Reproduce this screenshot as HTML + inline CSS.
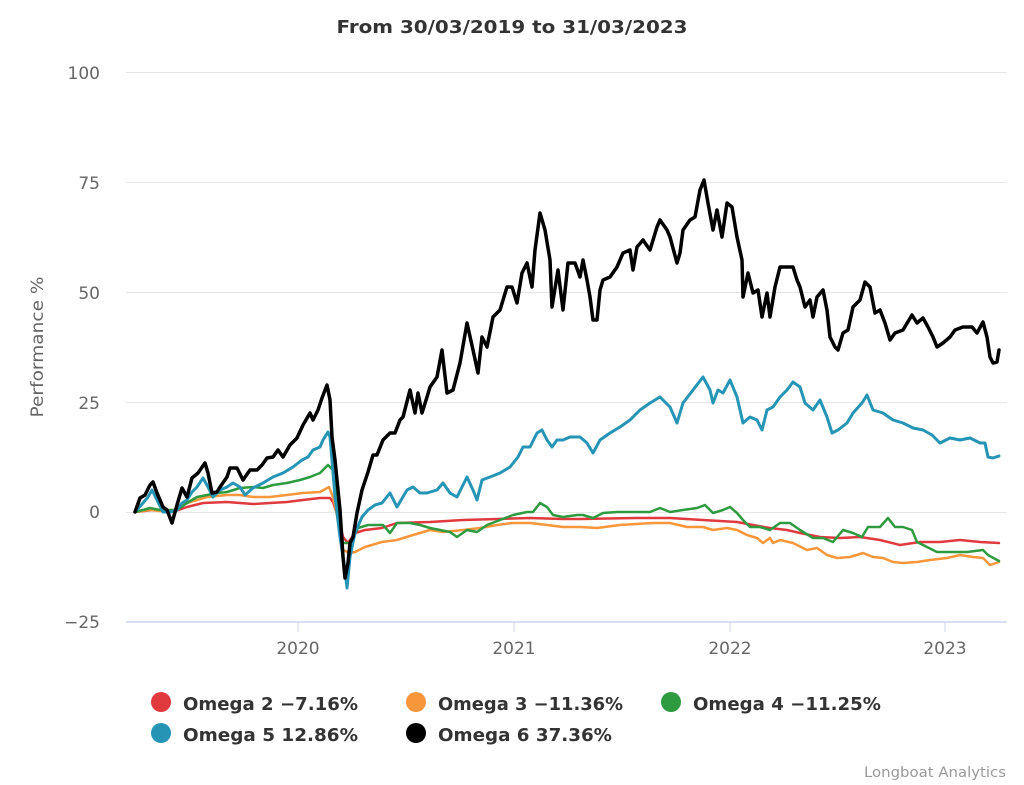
<!DOCTYPE html>
<html><head><meta charset="utf-8"><style>
html,body{margin:0;padding:0;background:#fff;}
svg{display:block;}
text{font-family:"DejaVu Sans","Liberation Sans",sans-serif;}
</style></head><body>
<svg width="1024" height="785" viewBox="0 0 1024 785" xmlns="http://www.w3.org/2000/svg">
<rect width="1024" height="785" fill="#fff"/>
<text x="512" y="33" text-anchor="middle" font-size="18" font-weight="bold" fill="#333" textLength="351" lengthAdjust="spacingAndGlyphs">From 30/03/2019 to 31/03/2023</text>
<g stroke="#e6e6e6" stroke-width="1">
<line x1="126" y1="72.5" x2="1007" y2="72.5"/>
<line x1="126" y1="182.5" x2="1007" y2="182.5"/>
<line x1="126" y1="292.5" x2="1007" y2="292.5"/>
<line x1="126" y1="402.5" x2="1007" y2="402.5"/>
<line x1="126" y1="512.5" x2="1007" y2="512.5"/>
</g>
<line x1="126" y1="622" x2="1007" y2="622" stroke="#ccd6eb" stroke-width="1.5"/>
<g stroke="#ccd6eb" stroke-width="1">
<line x1="298" y1="622" x2="298" y2="632"/>
<line x1="514" y1="622" x2="514" y2="632"/>
<line x1="730" y1="622" x2="730" y2="632"/>
<line x1="945" y1="622" x2="945" y2="632"/>
</g>
<g font-size="17" fill="#666" text-anchor="end">
<text x="100" y="79">100</text>
<text x="100" y="189">75</text>
<text x="100" y="299">50</text>
<text x="100" y="409">25</text>
<text x="100" y="518">0</text>
<text x="100" y="628">−25</text>
</g>
<text transform="translate(43,347) rotate(-90)" text-anchor="middle" font-size="17" fill="#666" textLength="141" lengthAdjust="spacingAndGlyphs">Performance %</text>
<g font-size="17" fill="#666" text-anchor="middle">
<text x="298" y="654">2020</text>
<text x="514" y="654">2021</text>
<text x="730" y="654">2022</text>
<text x="945" y="654">2023</text>
</g>
<g fill="none" stroke-linejoin="round" stroke-linecap="round">
<polyline stroke="#e0393e" stroke-width="2.5" points="135,512 153,510 173,512 187,507 203,503 227,502 240,503 253,504 270,503 287,502 303,500 320,498 330,498 333,502 338,517 343,537 348,543 355,533 365,530 382,528 397,523 430,522 463,520 497,519 530,518 563,519 580,519 637,518 670,518 703,520 737,522 753,525 770,528 787,530 800,533 820,537 840,538 860,537 880,540 900,545 920,542 940,542 960,540 980,542 999,543"/>
<polyline stroke="#f7963a" stroke-width="2.5" points="135,512 150,510 160,511 173,512 187,503 207,497 227,495 240,495 253,497 270,497 287,495 303,493 320,492 329,487 333,497 338,520 343,550 350,553 355,552 365,547 382,542 397,540 413,535 430,530 443,532 463,530 480,528 497,525 513,523 530,523 547,525 563,527 580,527 597,528 620,525 653,523 670,523 687,527 703,527 713,530 727,528 737,530 747,535 757,538 763,543 770,538 773,543 780,540 793,543 807,550 817,548 827,555 837,558 850,557 863,553 873,557 883,558 893,562 903,563 917,562 930,560 947,558 960,555 973,557 983,558 990,565 999,562"/>
<polyline stroke="#2e9b40" stroke-width="2.5" points="135,512 143,510 150,508 160,510 170,510 177,510 187,503 197,497 207,495 217,493 227,492 240,488 253,487 263,488 273,485 287,483 300,480 310,477 320,473 328,465 333,470 338,513 343,543 350,543 358,528 368,525 377,525 383,525 390,533 397,523 410,523 420,525 430,528 440,530 450,532 457,537 467,530 477,532 487,525 500,520 513,515 527,512 533,512 540,503 547,507 553,515 563,517 577,515 583,515 593,518 603,513 617,512 637,512 650,512 660,508 670,512 683,510 697,508 705,505 713,513 723,510 730,507 737,513 743,520 750,527 760,527 770,530 780,523 790,523 800,530 813,538 823,538 833,542 843,530 853,533 862,537 868,527 880,527 888,518 895,527 903,527 912,530 917,542 927,547 937,552 950,552 967,552 983,550 988,555 999,561"/>
<polyline stroke="#2594b5" stroke-width="3" points="135,512 143,503 148,497 152,490 157,500 163,512 170,512 177,510 182,503 187,500 192,492 197,487 203,478 208,487 213,497 220,490 227,487 233,483 240,487 245,495 253,488 263,483 273,477 283,473 293,467 302,460 308,457 313,450 320,447 323,440 328,432 330,437 332,460 335,497 340,537 345,570 347,588 350,557 355,533 362,517 368,510 375,505 382,503 390,493 397,507 407,490 413,487 420,493 427,493 437,490 443,483 450,493 457,497 467,477 473,490 477,500 482,480 490,477 500,473 510,467 518,457 523,447 530,447 537,433 542,430 547,440 552,447 557,440 563,440 570,437 580,437 587,443 593,453 600,440 610,433 620,427 630,420 640,410 650,403 660,397 670,407 677,423 683,403 693,390 703,377 710,390 713,403 718,390 723,393 730,380 737,397 743,423 750,417 757,420 762,430 767,410 773,407 780,397 787,390 793,382 800,387 805,403 813,410 820,400 827,417 832,433 838,430 847,423 853,413 862,403 867,395 873,410 883,413 893,420 903,423 913,428 923,430 932,435 940,443 950,438 960,440 970,438 980,443 985,443 988,457 993,458 999,456"/>
<polyline stroke="#000" stroke-width="3.5" points="135,512 140,498 145,495 150,485 153,482 157,493 160,500 163,507 167,510 172,523 177,505 182,488 187,497 192,478 198,473 205,463 208,473 212,493 217,492 220,487 227,477 230,468 237,468 243,480 250,470 257,470 262,465 267,458 273,457 278,450 283,457 290,445 297,438 303,425 310,413 313,420 318,410 322,398 327,385 330,400 332,437 335,460 340,510 343,557 345,578 348,563 350,543 353,537 357,513 362,490 368,472 373,455 377,455 383,440 390,433 395,433 400,420 403,417 410,390 415,413 418,393 422,413 427,397 430,387 437,377 442,350 447,393 453,390 460,363 467,323 473,350 478,373 482,337 487,347 493,317 500,310 507,287 512,287 517,303 522,273 527,263 532,287 535,250 540,213 545,230 550,260 552,307 558,270 563,310 568,263 575,263 580,277 583,260 587,280 590,297 593,320 597,320 600,290 603,280 610,277 617,267 623,253 630,250 633,270 637,247 643,240 650,250 657,227 660,220 667,230 670,237 677,263 680,253 683,230 690,220 695,217 700,190 704,180 708,203 713,230 717,210 722,237 727,203 732,207 737,237 742,260 743,297 748,273 753,293 758,290 762,317 767,293 770,317 775,287 780,267 790,267 793,267 797,280 800,287 805,307 810,300 813,317 817,297 823,290 827,310 830,337 835,347 838,350 843,333 848,330 853,307 860,300 865,282 870,287 875,313 880,310 885,323 890,340 895,333 903,330 912,315 917,323 923,318 928,327 933,337 937,347 943,343 950,337 955,330 963,327 972,327 977,333 983,322 987,337 990,357 993,363 997,362 999,350"/>
</g>
<circle cx="161" cy="702" r="10" fill="#e0393e"/>
<circle cx="416" cy="702" r="10" fill="#f7963a"/>
<circle cx="671" cy="702" r="10" fill="#2e9b40"/>
<circle cx="161" cy="733" r="10" fill="#2594b5"/>
<circle cx="416" cy="733" r="10" fill="#000"/>
<g font-size="18" font-weight="bold" fill="#333">
<text x="183" y="710" textLength="175" lengthAdjust="spacingAndGlyphs">Omega 2 −7.16%</text>
<text x="438" y="710" textLength="185" lengthAdjust="spacingAndGlyphs">Omega 3 −11.36%</text>
<text x="693" y="710" textLength="188" lengthAdjust="spacingAndGlyphs">Omega 4 −11.25%</text>
<text x="183" y="741" textLength="175" lengthAdjust="spacingAndGlyphs">Omega 5 12.86%</text>
<text x="438" y="741" textLength="174" lengthAdjust="spacingAndGlyphs">Omega 6 37.36%</text>
</g>
<text x="1006" y="777" text-anchor="end" font-size="14" fill="#999" textLength="142" lengthAdjust="spacingAndGlyphs">Longboat Analytics</text>
</svg>
</body></html>
